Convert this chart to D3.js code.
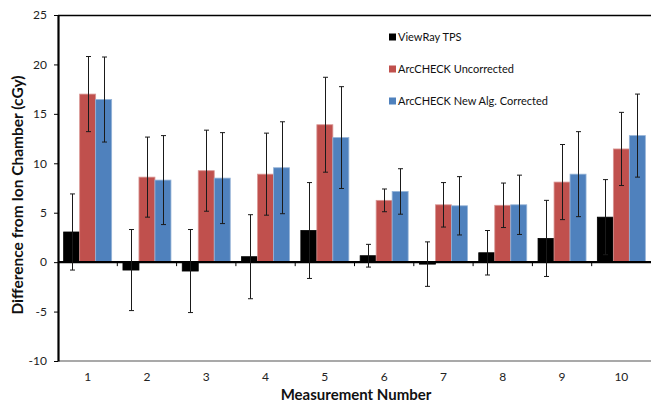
<!DOCTYPE html>
<html><head><meta charset="utf-8">
<script src="https://cdn.jsdelivr.net/npm/d3@7"></script>
<style>body{margin:0;background:#fff;} svg{display:block;font-family:Lato,"Open Sans",sans-serif;}</style>
</head><body>
<svg id="c" width="651" height="403"></svg>
<script>
const categories = ["1","2","3","4","5","6","7","8","9","10"];
const seriesNames = ["ViewRay TPS","ArcCHECK Uncorrected","ArcCHECK New Alg. Corrected"];
const viewray      = [3.05, -0.8, -0.9, 0.55, 3.2, 0.65, -0.2, 0.95, 2.4, 4.55];
const viewrayErr   = [3.85, 4.1, 4.2, 4.25, 4.85, 1.15, 2.25, 2.25, 3.85, 3.8];
const uncorrected  = [17.0, 8.6, 9.25, 8.9, 13.9, 6.25, 5.8, 5.75, 8.1, 11.45];
const uncorrErr    = [3.8, 4.05, 4.1, 4.15, 4.8, 1.15, 2.25, 2.25, 3.8, 3.7];
const corrected    = [16.45, 8.3, 8.5, 9.55, 12.6, 7.15, 5.7, 5.8, 8.9, 12.8];
const corrErr      = [4.3, 4.5, 4.6, 4.65, 5.15, 2.3, 2.95, 3.0, 4.3, 4.2];
const yTicks = [-10,-5,0,5,10,15,20,25];
const colors = ["#000000","#C0504D","#4F81BD"];
const strokes = ["#000000","#D99795","#95B3D7"];

const values = [viewray, uncorrected, corrected];
const errs = [viewrayErr, uncorrErr, corrErr];

const svg = d3.select("#c");
const L = 58, R = 651, T = 15, B = 361;
const x = d3.scaleBand().domain(categories).range([L, R]).padding(0);
const x1 = d3.scaleBand().domain(d3.range(3)).range([0, x.bandwidth()]).paddingInner(0).paddingOuter(0.353);
const y = d3.scaleLinear().domain([-10, 25]).range([B, T]);

// frame lines
svg.append("line").attr("x1", L).attr("x2", R).attr("y1", T+0.5).attr("y2", T+0.5).attr("stroke", "#000").attr("stroke-width", 1.5);
svg.append("line").attr("x1", L).attr("x2", R).attr("y1", B).attr("y2", B).attr("stroke", "#8c8c8c").attr("stroke-width", 1.5);

// bars
const data = [];
categories.forEach((c, i) => values.forEach((v, s) => data.push({c, s, v: v[i], e: errs[s][i]})));
svg.append("g").selectAll("rect").data(data).join("rect")
  .attr("x", d => x(d.c) + x1(d.s))
  .attr("width", x1.bandwidth())
  .attr("y", d => y(Math.max(0, d.v)))
  .attr("height", d => Math.abs(y(d.v) - y(0)))
  .attr("fill", d => colors[d.s])
  .attr("stroke", d => strokes[d.s]).attr("stroke-width", 0.8);

// zero line
svg.append("line").attr("x1", L).attr("x2", R).attr("y1", y(0)).attr("y2", y(0)).attr("stroke", "#000").attr("stroke-width", 2.2);
// category ticks on zero line
svg.append("g").selectAll("line").data(categories.slice(1)).join("line")
  .attr("x1", d => x(d)).attr("x2", d => x(d))
  .attr("y1", y(0)).attr("y2", y(0) + 4)
  .attr("stroke", "#000").attr("stroke-width", 1);

// error bars
const eg = svg.append("g").attr("stroke", "#1a1a1a").attr("stroke-width", 1);
data.forEach(d => {
  const cx = Math.round(x(d.c) + x1(d.s) + x1.bandwidth()/2) + 0.5;
  const y1 = y(d.v + d.e), y2 = y(d.v - d.e);
  eg.append("line").attr("x1", cx).attr("x2", cx).attr("y1", y1).attr("y2", y2);
  eg.append("line").attr("x1", cx-2.5).attr("x2", cx+2.5).attr("y1", y1).attr("y2", y1);
  eg.append("line").attr("x1", cx-2.5).attr("x2", cx+2.5).attr("y1", y2).attr("y2", y2);
});

// y axis
const ya = svg.append("g").attr("transform", `translate(${L},0)`)
  .call(d3.axisLeft(y).tickValues(yTicks).tickFormat(d => String(d)).tickSize(4).tickSizeOuter(0).tickPadding(7));
ya.select(".domain").attr("stroke", "#000").attr("stroke-width", 2.2);
ya.selectAll(".tick line").attr("stroke", "#000");
ya.selectAll("text").attr("font-family", "Lato, sans-serif").attr("font-size", 12).attr("fill", "#222");

// x labels
svg.append("g").selectAll("text").data(categories).join("text")
  .attr("x", d => x(d) + x.bandwidth()/2).attr("y", 381)
  .attr("text-anchor", "middle").attr("font-size", 12).attr("fill", "#222").text(d => d);

// axis titles
svg.append("text").attr("x", 356).attr("y", 400).attr("text-anchor", "middle")
  .attr("font-size", 15).attr("font-weight", "bold").attr("fill", "#111").text("Measurement Number");
svg.append("text").attr("transform", "translate(23,195) rotate(-90)").attr("text-anchor", "middle")
  .attr("font-size", 15.5).attr("font-weight", "bold").attr("fill", "#111").text("Difference from Ion Chamber (cGy)");

// legend
const lg = svg.append("g").selectAll("g").data(seriesNames).join("g")
  .attr("transform", (d, i) => `translate(389,${37 + i*32})`);
lg.append("rect").attr("x", 0).attr("y", -3.5).attr("width", 7).attr("height", 7).attr("fill", (d, i) => colors[i]);
lg.append("text").attr("x", 9).attr("y", 4.2).attr("font-size", 11).attr("fill", "#111").text(d => d);
</script>
</body></html>
